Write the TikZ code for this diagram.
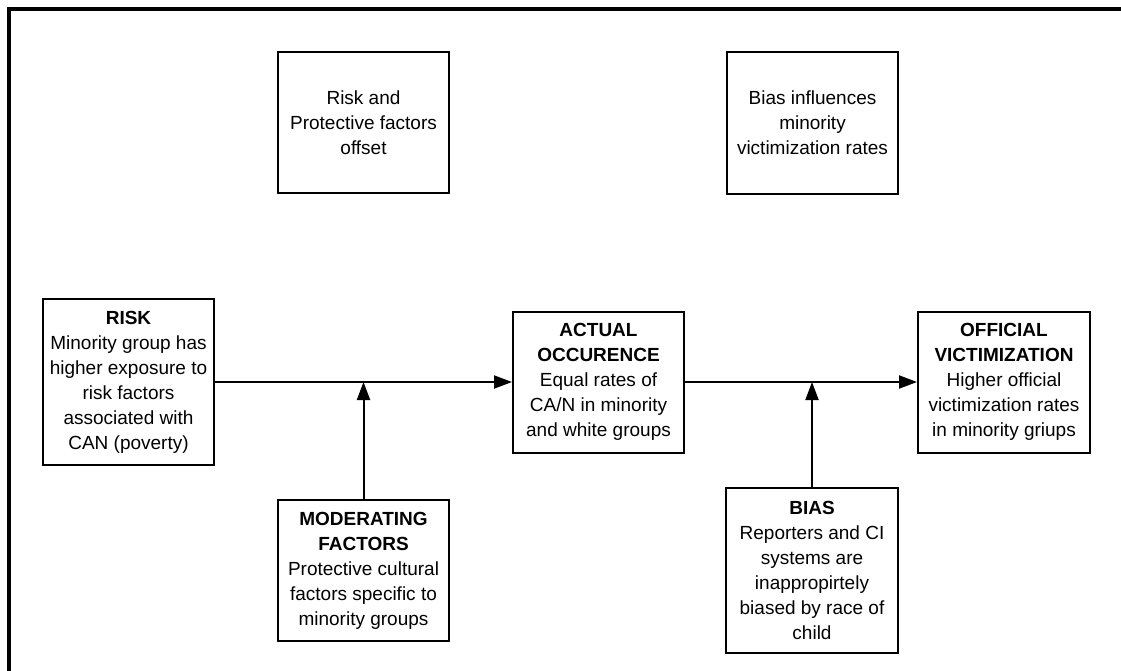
\documentclass[tikz,border=0pt]{standalone}
\usepackage{fontspec}
\setmainfont{Liberation Sans}
\usetikzlibrary{arrows.meta}

\begin{document}
\begin{tikzpicture}[x=1pt,y=-1pt,
    box/.style={draw,line width=2pt,align=center,inner sep=0pt,font=\fontsize{19}{25}\selectfont},
    flow/.style={line width=2pt,-{Triangle[length=18pt,width=13pt]}}]
  \useasboundingbox (0,0) rectangle (1121,671);
  \draw[line width=3.5pt] (9,671) -- (9,9) -- (1121,9);

  % notes on top
  \node[box,minimum width=171pt,minimum height=141pt] (offset) at (363.5,122.5) {Risk and\\Protective factors\\offset};
  \node[box,minimum width=171pt,minimum height=142pt] (influence) at (812.5,123) {Bias influences\\minority\\victimization rates};

  % main chain
  \node[box,minimum width=171pt,minimum height=166pt] (risk) at (128.5,382) {\textbf{RISK}\\Minority group has\\higher exposure to\\risk factors\\associated with\\CAN (poverty)};
  \node[box,minimum width=171pt,minimum height=141pt] (actual) at (598.5,382) {\textbf{ACTUAL}\\\textbf{OCCURENCE}\\Equal rates of\\CA/N in minority\\and white groups};
  \node[box,minimum width=172pt,minimum height=141pt] (official) at (1004,382) {\textbf{OFFICIAL}\\\textbf{VICTIMIZATION}\\Higher official\\victimization rates\\in minority griups};

  % influences from below
  \node[box,minimum width=171pt,minimum height=141pt] (moderating) at (363.5,570.5) {\textbf{MODERATING}\\\textbf{FACTORS}\\Protective cultural\\factors specific to\\minority groups};
  \node[box,minimum width=172pt,minimum height=165pt] (bias) at (812,570.5) {\textbf{BIAS}\\Reporters and CI\\systems are\\inappropirtely\\biased by race of\\child};

  \draw[flow] (risk) -- (actual);
  \draw[flow] (actual) -- (official);
  \draw[flow] (moderating.north) -- (moderating.north |- risk.east);
  \draw[flow] (bias.north) -- (bias.north |- actual.east);

\end{tikzpicture}
\end{document}
